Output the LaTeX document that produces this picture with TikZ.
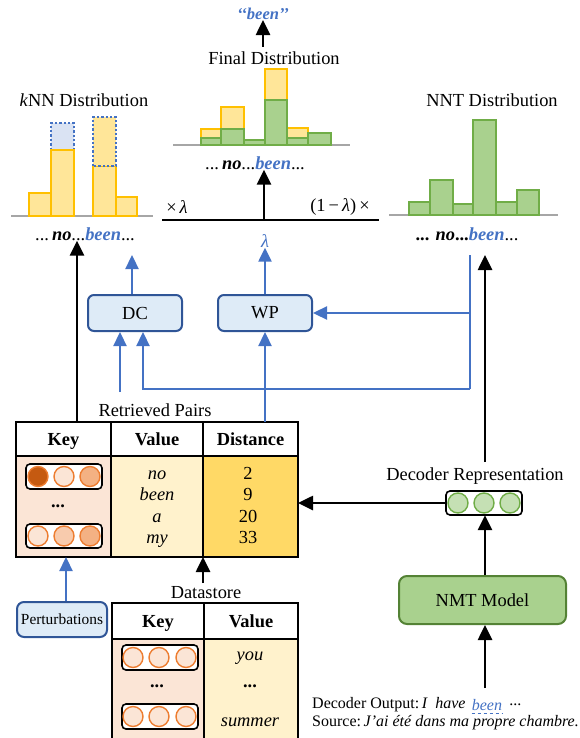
\documentclass[tikz,border=0pt]{standalone}
\usepackage{fontspec}
\setmainfont{Liberation Serif}
\usetikzlibrary{arrows.meta}
\definecolor{bluec}{HTML}{4472C4}
\definecolor{boxblue}{HTML}{DEEBF7}
\definecolor{boxbluedraw}{HTML}{2F5597}
\definecolor{ylfill}{HTML}{FFE699}
\definecolor{yldraw}{HTML}{FFC000}
\definecolor{grfill}{HTML}{A9D18E}
\definecolor{grdraw}{HTML}{70AD47}
\definecolor{nmtdraw}{HTML}{548235}
\definecolor{basegray}{HTML}{A6A6A6}
\definecolor{peach}{HTML}{FBE5D6}
\definecolor{peachmid}{HTML}{F8CBAD}
\definecolor{peachdark}{HTML}{F4B183}
\definecolor{orangedk}{HTML}{C55A11}
\definecolor{orangec}{HTML}{ED7D31}
\definecolor{valfill}{HTML}{FFF2CC}
\definecolor{distfill}{HTML}{FFD966}
\definecolor{repfill}{HTML}{C5E0B4}
\definecolor{dotfill}{HTML}{DAE3F3}
\begin{document}
\begin{tikzpicture}[x=1pt,y=-1pt,
  txt/.style={inner sep=0pt,font=\fontsize{18.4}{22}\selectfont},
  btxt/.style={inner sep=0pt,anchor=base,font=\fontsize{18.4}{22}\selectfont},
  smalltxt/.style={inner sep=0pt,font=\fontsize{16}{19}\selectfont},
  blackarrow/.style={line width=2.6pt,-{Triangle[width=14pt,length=15pt]}},
  bluearrow/.style={line width=2.3pt,bluec,-{Triangle[width=13pt,length=14pt]}},
  blueline/.style={line width=2.3pt,bluec},
  ybar/.style={fill=ylfill,draw=yldraw,line width=2.4pt},
  gbar/.style={fill=grfill,draw=grdraw,line width=2.4pt},
  dotbox/.style={draw=bluec,dotted,line width=2.4pt},
  baseln/.style={draw=basegray,line width=2.2pt},
  bluebox/.style={draw=boxbluedraw,fill=boxblue,line width=2pt,rounded corners=6pt,inner sep=0pt},
  vecbox/.style={draw=black,fill=white,line width=1.6pt,rounded corners=4pt},
  ocirc/.style={draw=orangec,line width=1.4pt},
  gcirc/.style={draw=grdraw,fill=repfill,line width=1.4pt},
  tabline/.style={draw=black,line width=2pt}
]
\useasboundingbox (0,0) rectangle (580,738);

% ---------- kNN distribution ----------
\draw[baseln] (11,216) -- (153,216);
\draw[ybar] (29,216) rectangle (51,193);
\draw[dotbox,fill=dotfill] (51,150) rectangle (74,123);
\draw[ybar] (51,216) rectangle (74,150);
\draw[ybar] (93,216) rectangle (116,166);
\draw[dotbox,fill=ylfill] (93,166) rectangle (116,117);
\draw[ybar] (116,216) rectangle (137,197);
\node[txt] (knntitle) at (84,100) {\textit{k}NN Distribution};
\node[txt] (knnlab) at (85,234) {...\,\textbf{\textit{no}}...\textcolor{bluec}{\textbf{\textit{been}}}...};

% ---------- Final distribution ----------
\draw[baseln] (173,145) -- (350,145);
\draw[ybar] (201,145) rectangle (221,129);
\draw[ybar] (221,145) rectangle (244,107);
\draw[ybar] (265,145) rectangle (287,69);
\draw[ybar] (287,145) rectangle (308,128);
\draw[gbar] (201,145) rectangle (221,138);
\draw[gbar] (221,145) rectangle (244,129);
\draw[gbar] (244,145) rectangle (265,140);
\draw[gbar] (265,145) rectangle (287,100);
\draw[gbar] (287,145) rectangle (308,138);
\draw[gbar] (308,145) rectangle (331,133);
\node[txt] (finaltitle) at (274,58) {Final Distribution};
\node[txt] (finallab) at (255,163) {...\,\textbf{\textit{no}}...\textcolor{bluec}{\textbf{\textit{been}}}...};
\node[inner sep=0pt,font=\fontsize{16.5}{19}\selectfont,text=bluec] (beenout) at (263,14) {\textbf{\textit{‘‘been’’}}};
\coordinate (finaltop) at (263,47);
\draw[blackarrow] (finaltop) -- (beenout.south);

% ---------- NNT distribution ----------
\draw[baseln] (389,215) -- (558,215);
\draw[gbar] (409,215) rectangle (430,202);
\draw[gbar] (430,215) rectangle (453,180);
\draw[gbar] (453,215) rectangle (473,204);
\draw[gbar] (473,215) rectangle (496,120);
\draw[gbar] (496,215) rectangle (517,202);
\draw[gbar] (517,215) rectangle (539,190);
\node[txt] (nnttitle) at (492,100) {NNT Distribution};
\node[txt] (nntlab) at (467,234) {\textbf{... \textit{no}...}\textcolor{bluec}{\textbf{\textit{been}}}...};

% ---------- combination ----------
\coordinate (combL) at (162,220);
\coordinate (combR) at (379,220);
\coordinate (combM) at (264,220);
\draw[line width=2.6pt] (combL) -- (combR);
\draw[blackarrow] (combM) -- (finallab.south -| combM);
\node[txt] (lamL) at (177,207) {×\,\textit{λ}};
\node[txt] (lamR) at (340,207) {(1\,−\,\textit{λ})\,×};
\node[txt,text=bluec] (lam) at (265,241) {\textit{λ}};

% ---------- DC / WP ----------
\node[bluebox,minimum width=94pt,minimum height=36pt] (dc) at (135,313) {\fontsize{18.4}{22}\selectfont DC};
\node[bluebox,minimum width=94pt,minimum height=36pt] (wp) at (265,313) {\fontsize{18.4}{22}\selectfont WP};
\coordinate (dcup) at (132,255);
\draw[bluearrow] (dc.north -| dcup) -- (dcup);
\draw[bluearrow] (wp.north) -- (lam.south);

\coordinate (bltop) at (470,255);
\coordinate (blmid) at (470,313);
\coordinate (blbot) at (470,389);
\coordinate (dcin2) at (143,389);
\coordinate (dcin1) at (120,392);
\draw[blueline] (bltop) -- (blbot);
\draw[bluearrow] (blmid) -- (wp.east);
\draw[bluearrow] (blbot) -- (dcin2) -- (dc.south -| dcin2);
\draw[bluearrow] (dcin1) -- (dc.south -| dcin1);

% ---------- Retrieved pairs table ----------
\fill[peach] (16,456) rectangle (111,557);
\fill[valfill] (111,456) rectangle (203,557);
\fill[distfill] (203,456) rectangle (298,557);
\draw[tabline] (16,422) rectangle (298,557);
\draw[tabline] (16,456) -- (298,456);
\draw[tabline] (111,422) -- (111,557);
\draw[tabline] (203,422) -- (203,557);
\node[txt] (rp) at (155,410) {Retrieved Pairs};
\node[btxt] (hk) at (63.5,445) {\textbf{Key}};
\node[btxt] (hv) at (157,445) {\textbf{Value}};
\node[btxt] (hd) at (250.5,445) {\textbf{Distance}};
\coordinate (rptopL) at (77,422);
\coordinate (rptopM) at (265,422);
\coordinate (rpbotK) at (66,557);
\coordinate (rpbotD) at (203,557);
\coordinate (rpright) at (298,503);
\draw[blackarrow] (rptopL) -- (knnlab.south -| rptopL);
\draw[bluearrow] (rptopM) -- (wp.south);

\draw[vecbox] (26,464) rectangle (102,489);
\draw[ocirc,fill=orangedk] (38,476.5) circle (10);
\draw[ocirc,fill=peach] (64,476.5) circle (10);
\draw[ocirc,fill=peachdark] (90,476.5) circle (10);
\node[txt] (rdots) at (58,506) {\textbf{...}};
\draw[vecbox] (26,524) rectangle (102,548);
\draw[ocirc,fill=peach] (38,536) circle (10);
\draw[ocirc,fill=peachmid] (64,536) circle (10);
\draw[ocirc,fill=peachdark] (90,536) circle (10);

\node[btxt] (v1) at (157,479) {\textit{no}};
\node[btxt] (v2) at (157,500.5) {\textit{been}};
\node[btxt] (v3) at (157,522) {\textit{a}};
\node[btxt] (v4) at (157,543.5) {\textit{my}};
\node[btxt] (d1) at (248,479) {2};
\node[btxt] (d2) at (248,500.5) {9};
\node[btxt] (d3) at (248,522) {20};
\node[btxt] (d4) at (248,543.5) {33};

% ---------- Perturbations ----------
\node[bluebox,minimum width=90pt,minimum height=35pt,rounded corners=7pt] (pert) at (62,619.5) {\fontsize{15.4}{18}\selectfont Perturbations};
\draw[bluearrow] (pert.north -| rpbotK) -- (rpbotK);

% ---------- Datastore ----------
\node[txt] (ds) at (206,593) {Datastore};
\coordinate (dstop) at (203,583);
\draw[blackarrow] (dstop) -- (rpbotD);
\fill[peach] (112,639) rectangle (204,745);
\fill[valfill] (204,639) rectangle (298,745);
\draw[tabline] (112,745) -- (112,603) -- (298,603) -- (298,745);
\draw[tabline] (112,639) -- (298,639);
\draw[tabline] (204,603) -- (204,745);
\node[btxt] (dk) at (158,627) {\textbf{Key}};
\node[btxt] (dv) at (251,627) {\textbf{Value}};
\draw[vecbox] (122,645) rectangle (198,670);
\draw[ocirc,fill=peach] (133,657.5) circle (10);
\draw[ocirc,fill=peach] (159,657.5) circle (10);
\draw[ocirc,fill=peach] (186,657.5) circle (10);
\draw[vecbox] (122,704) rectangle (198,729);
\draw[ocirc,fill=peach] (133,716.5) circle (10);
\draw[ocirc,fill=peach] (159,716.5) circle (10);
\draw[ocirc,fill=peach] (186,716.5) circle (10);
\node[txt] (ddots1) at (157,686) {\textbf{...}};
\node[txt] (ddots2) at (250,686) {\textbf{...}};
\node[btxt] (dv1) at (250,660) {\textit{you}};
\node[btxt] (dv2) at (250,726) {\textit{summer}};

% ---------- Decoder side ----------
\node[txt] (drlab) at (475,476) {Decoder Representation};
\draw[vecbox] (446,491) rectangle (522,515);
\node[inner sep=0pt,minimum width=76pt,minimum height=24pt] (drep) at (484,503) {};
\draw[gcirc] (458,503) circle (10);
\draw[gcirc] (484,503) circle (10);
\draw[gcirc] (510,503) circle (10);
\draw[blackarrow] (drep.west) -- (rpright);
\coordinate (drtop) at (485,462);
\coordinate (drup) at (485,255);
\draw[blackarrow] (drtop) -- (drup);
\node[draw=nmtdraw,fill=grfill,line width=2pt,rounded corners=8pt,minimum width=167pt,minimum height=48pt,inner sep=0pt] (nmt) at (482.5,600) {\fontsize{18.4}{22}\selectfont NMT Model};
\draw[blackarrow] (nmt.north -| drtop) -- (drep.south -| drtop);
\coordinate (inp) at (485,688);
\draw[blackarrow] (inp) -- (nmt.south -| inp);

\node[smalltxt,anchor=west] (dout) at (312,705) {Decoder Output:\,\textit{I\ \ have}};
\node[smalltxt,anchor=west,text=bluec] (dbeen) at ([xshift=6pt]dout.east) {\textit{been}};
\node[smalltxt,anchor=west] (ddots) at ([xshift=7pt]dbeen.east) {...};
\draw[bluec,dashed,line width=1pt] ([yshift=-3pt]dbeen.south west) -- ([yshift=-3pt]dbeen.south east);
\node[smalltxt,anchor=west] (src) at (312,723) {Source:\,\textit{J'ai été dans ma propre chambre.}};
\end{tikzpicture}
\end{document}
